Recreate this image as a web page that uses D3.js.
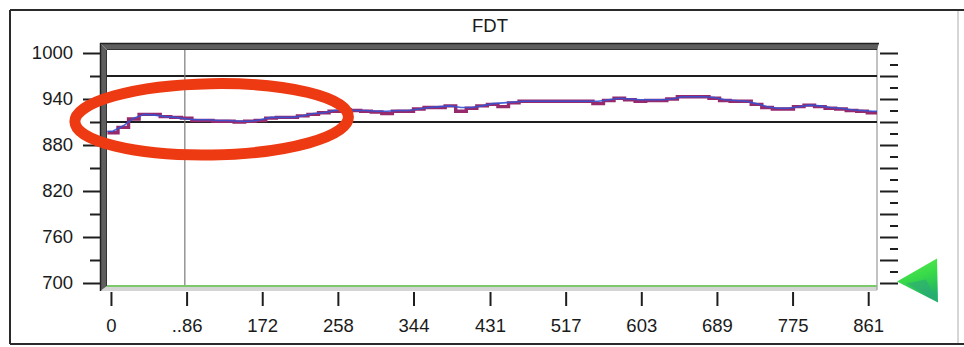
<!DOCTYPE html>
<html>
<head>
<meta charset="utf-8">
<script src="https://cdn.jsdelivr.net/npm/d3@7"></script>
<style>
  html, body { margin: 0; padding: 0; background: #fff; }
  svg { display: block; }
  text { font-family: "Liberation Sans", Arial, sans-serif; fill: #1a1a1a; }
</style>
</head>
<body>
<svg id="chart" width="964" height="347"></svg>
<script>
// ---- data -------------------------------------------------------------
const chartTitle = "FDT";
const sampleStep = 12;                       // samples are 12 index units apart
const firstSample = -4;
const trendValues = [
  898, 905, 915, 920, 919, 917, 916, 914, 913, 913, 912, 912, 911, 911, 913,
  916, 916, 916, 918, 921, 922, 925, 926, 925, 925, 924, 924, 925, 925, 927,
  929, 930, 931, 929, 929, 931, 934, 935, 936, 937, 937, 937, 937, 937, 937,
  937, 937, 939, 941, 940, 939, 939, 939, 940, 943, 943, 943, 942, 939, 938,
  937, 934, 930, 928, 928, 930, 932, 931, 929, 928, 926, 925, 924
];
const measuredValues = [
  896, 903, 914, 920, 920, 917, 916, 915, 912, 912, 911, 911, 910, 911, 912,
  915, 916, 916, 918, 920, 922, 924, 926, 925, 924, 923, 921, 924, 924, 927,
  929, 929, 931, 924, 928, 931, 933, 930, 935, 937, 937, 937, 937, 937, 937,
  937, 934, 938, 941, 939, 937, 938, 938, 940, 943, 943, 943, 941, 938, 937,
  937, 933, 929, 927, 927, 930, 932, 930, 928, 927, 925, 924, 922
];
const lowAlarmValue = 696;                   // green trace along the bottom
const limitValues = [970, 910];              // upper / lower limit lines
const cursorIndex = 84;
const yMajorTicks = [700, 760, 820, 880, 940, 1000];
const yMinorTicks = [730, 790, 850, 910, 970];
const rulerLongTicks = [700, 730, 760, 790, 820, 850, 880, 910, 940, 970, 1000];
const rulerShortTicks = [715, 745, 775, 805, 835, 865, 895, 925, 955, 985];
const xTickValues = [0, 86, 172, 258, 344, 431, 517, 603, 689, 775, 861];
const xTickLabels = ["0", "..86", "172", "258", "344", "431", "517", "603", "689", "775", "861"];
// highlighted region (index / value extents)
const highlightIndex = [-41, 270];
const highlightValue = [867, 960];

// ---- layout -----------------------------------------------------------
const plot = { left: 107, right: 877, top: 50, bottom: 286 };
const labelSize = "18.5px";
const svg = d3.select("#chart");

const x = d3.scaleLinear().domain([-4.5, 871]).range([plot.left, plot.right]);
const y = d3.scaleLinear().domain([700, 1000]).range([283, 53]);

// outer frame
svg.append("line").attr("x1", 10).attr("x2", 964).attr("y1", 10).attr("y2", 10)
  .attr("stroke", "#2a2a2a").attr("stroke-width", 2);
svg.append("line").attr("x1", 10).attr("x2", 964).attr("y1", 344).attr("y2", 344)
  .attr("stroke", "#2a2a2a").attr("stroke-width", 2);
svg.append("line").attr("x1", 10).attr("x2", 10).attr("y1", 10).attr("y2", 344)
  .attr("stroke", "#2a2a2a").attr("stroke-width", 2);
svg.append("line").attr("x1", 958).attr("x2", 958).attr("y1", 11).attr("y2", 343)
  .attr("stroke", "#c8c8c8").attr("stroke-width", 1.5);

// title
svg.append("text").attr("x", 490).attr("y", 32).attr("text-anchor", "middle")
  .style("font-size", labelSize).text(chartTitle);

// plot background and bevelled frame
svg.append("rect").attr("x", plot.left).attr("y", plot.top)
  .attr("width", plot.right - plot.left).attr("height", plot.bottom - plot.top)
  .attr("fill", "#fff");
svg.append("rect").attr("x", 101).attr("y", 286).attr("width", 776).attr("height", 5)
  .attr("fill", "#d4d4d4");
svg.append("line").attr("x1", plot.right).attr("x2", plot.right)
  .attr("y1", 46).attr("y2", 290).attr("stroke", "#9a9a9a").attr("stroke-width", 1.2);
// top bevel
svg.append("path")
  .attr("d", "M100,43 L879,43 L877,50 L107,50 Z")
  .attr("fill", "#5e5e5e");
svg.append("line").attr("x1", 100).attr("x2", 879).attr("y1", 43.5).attr("y2", 43.5)
  .attr("stroke", "#222").attr("stroke-width", 1.5);
svg.append("line").attr("x1", 107).attr("x2", 877).attr("y1", 49.5).attr("y2", 49.5)
  .attr("stroke", "#333").attr("stroke-width", 1);
// left bevel
svg.append("path")
  .attr("d", "M100,43 L107,50 L107,286 L100,291 Z")
  .attr("fill", "#5e5e5e");
svg.append("line").attr("x1", 100.5).attr("x2", 100.5).attr("y1", 43).attr("y2", 291)
  .attr("stroke", "#222").attr("stroke-width", 1.5);
svg.append("line").attr("x1", 106.5).attr("x2", 106.5).attr("y1", 50).attr("y2", 286)
  .attr("stroke", "#333").attr("stroke-width", 1);

// clip for traces
svg.append("clipPath").attr("id", "plotClip").append("rect")
  .attr("x", plot.left).attr("y", plot.top)
  .attr("width", plot.right - plot.left).attr("height", plot.bottom - plot.top + 1);
const inner = svg.append("g").attr("clip-path", "url(#plotClip)");

// limit lines
inner.selectAll("line.limit").data(limitValues).join("line")
  .attr("class", "limit")
  .attr("x1", plot.left).attr("x2", plot.right)
  .attr("y1", d => y(d)).attr("y2", d => y(d))
  .attr("stroke", "#1e1e1e").attr("stroke-width", 2);

// cursor
inner.append("line")
  .attr("x1", x(cursorIndex)).attr("x2", x(cursorIndex))
  .attr("y1", plot.top).attr("y2", plot.bottom)
  .attr("stroke", "#7a7a7a").attr("stroke-width", 1.2);

// low alarm trace
inner.append("line")
  .attr("x1", plot.left).attr("x2", plot.right)
  .attr("y1", y(lowAlarmValue)).attr("y2", y(lowAlarmValue))
  .attr("stroke", "#7cc96c").attr("stroke-width", 2);

// measured (step) and trend traces
const idx = i => firstSample + i * sampleStep;
const measuredPts = measuredValues.map((v, i) => [idx(i), v]);
measuredPts.push([idx(measuredValues.length), measuredValues[measuredValues.length - 1]]);
const trendPts = trendValues.map((v, i) => [idx(i) + sampleStep / 2, v]);
trendPts.unshift([idx(0), trendValues[0]]);
trendPts.push([idx(trendValues.length), trendValues[trendValues.length - 1]]);

inner.append("path")
  .attr("d", d3.line().x(d => x(d[0])).y(d => y(d[1])).curve(d3.curveStepAfter)(measuredPts))
  .attr("fill", "none").attr("stroke", "#962a6c").attr("stroke-width", 3.4);
inner.append("path")
  .attr("d", d3.line().x(d => x(d[0])).y(d => y(d[1])).curve(d3.curveLinear)(trendPts))
  .attr("fill", "none").attr("stroke", "#3552d4").attr("stroke-width", 1.6)
  .attr("opacity", 0.9);

// left axis
const leftAxis = svg.append("g").attr("transform", "translate(100,0)");
leftAxis.call(d3.axisLeft(y).tickValues(yMajorTicks).tickSize(17).tickPadding(10)
  .tickFormat(d3.format("d")));
leftAxis.append("g").call(d3.axisLeft(y).tickValues(yMinorTicks).tickSize(10).tickFormat(""));
leftAxis.selectAll(".domain").remove();
leftAxis.selectAll("line").attr("stroke", "#1e1e1e").attr("stroke-width", 2);
leftAxis.selectAll("text").style("font-size", labelSize).attr("fill", "#1a1a1a");

// bottom axis
const bottomAxis = svg.append("g").attr("transform", "translate(0,292)");
bottomAxis.call(d3.axisBottom(x).tickValues(xTickValues).tickSize(14).tickPadding(13)
  .tickFormat((d, i) => xTickLabels[i]));
bottomAxis.select(".domain").remove();
bottomAxis.selectAll("line").attr("stroke", "#1e1e1e").attr("stroke-width", 2);
bottomAxis.selectAll("text").style("font-size", labelSize).attr("fill", "#1a1a1a");

// right ruler
const ruler = svg.append("g").attr("transform", "translate(898,0)");
ruler.call(d3.axisLeft(y).tickValues(rulerLongTicks).tickSize(18).tickFormat(""));
ruler.append("g").call(d3.axisLeft(y).tickValues(rulerShortTicks).tickSize(8).tickFormat(""));
ruler.selectAll(".domain").remove();
ruler.selectAll("line").attr("stroke", "#1e1e1e").attr("stroke-width", 2);

// level marker triangle
const tipY = y(lowAlarmValue + 6);
const grad = svg.append("defs").append("linearGradient").attr("id", "markerFill")
  .attr("x1", 0).attr("y1", 0).attr("x2", 0.3).attr("y2", 1);
grad.append("stop").attr("offset", 0).attr("stop-color", "#5cf04a");
grad.append("stop").attr("offset", 0.55).attr("stop-color", "#36d84a");
grad.append("stop").attr("offset", 1).attr("stop-color", "#22b06a");
const marker = svg.append("g");
marker.append("path")
  .attr("d", `M897,${tipY} L937,${tipY - 23} L938,${tipY + 21} Z`)
  .attr("fill", "url(#markerFill)");
marker.append("path")
  .attr("d", `M906,${tipY + 2} L926,${tipY - 2} L936,${tipY + 18} Z`)
  .attr("fill", "#2fa878").attr("opacity", 0.6);

// highlight ellipse
const hx0 = x(highlightIndex[0]), hx1 = x(highlightIndex[1]);
const hy0 = y(highlightValue[1]), hy1 = y(highlightValue[0]);
svg.append("ellipse")
  .attr("cx", (hx0 + hx1) / 2).attr("cy", (hy0 + hy1) / 2)
  .attr("rx", (hx1 - hx0) / 2).attr("ry", (hy1 - hy0) / 2)
  .attr("transform", `rotate(-1 ${(hx0 + hx1) / 2} ${(hy0 + hy1) / 2})`)
  .attr("fill", "none").attr("stroke", "#ee3a12").attr("stroke-width", 11);
</script>
</body>
</html>
